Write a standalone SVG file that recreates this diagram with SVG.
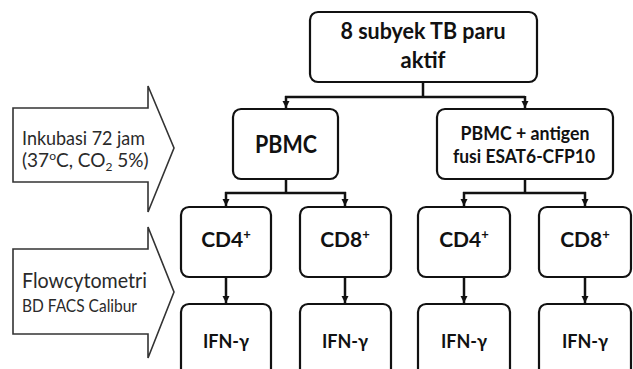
<svg xmlns="http://www.w3.org/2000/svg" width="633" height="369" viewBox="0 0 633 369">
<style>
.box{fill:#fff;stroke:#111;stroke-width:2.2}
.conn{fill:none;stroke:#111;stroke-width:2.5}
.big{fill:#111;stroke:#444;stroke-width:1.4}
.t{font-family:Lato,"Liberation Sans",sans-serif;fill:#111;text-anchor:middle}
.b{font-weight:bold}
.l{font-family:Lato,"Liberation Sans",sans-serif;fill:#2a2a2a}
</style>
<defs>
<marker id="ah" viewBox="0 0 10 10" refX="10" refY="5" markerWidth="3" markerHeight="3" orient="auto" markerUnits="strokeWidth">
<path d="M0,0 L10,5 L0,10 Z" fill="#111"/>
</marker>
</defs>
<rect width="633" height="369" fill="#fff"/>
<g id="arrow-inkubasi">
<path d="M13,108 H148 V86 L174,148 L148,212 V182 H13 Z" fill="#fff" stroke="#333" stroke-width="1.6"/>
<text class="l" x="22" y="145" font-size="19" textLength="123" lengthAdjust="spacingAndGlyphs">Inkubasi 72 jam</text>
<text class="l" x="22" y="167" font-size="19">(37<tspan font-size="12" dy="-7">o</tspan><tspan dy="7">C, CO</tspan><tspan font-size="12" dy="4">2</tspan><tspan dy="-4"> 5%)</tspan></text>
</g>
<g id="arrow-flow">
<path d="M13,249 H148 V227 L174,292 L148,358 V334 H13 Z" fill="#fff" stroke="#333" stroke-width="1.6"/>
<text class="l" x="22" y="288" font-size="22" textLength="125" lengthAdjust="spacingAndGlyphs">Flowcytometri</text>
<text class="l" x="22" y="312" font-size="17" textLength="115" lengthAdjust="spacingAndGlyphs">BD FACS Calibur</text>
</g>
<g id="connectors">
<path class="conn" d="M423,82 V97 M285,97 H525"/>
<path class="conn" d="M286,96 V108" marker-end="url(#ah)"/>
<path class="conn" d="M525,96 V108" marker-end="url(#ah)"/>
<path class="conn" d="M286,179 V193 M225,193 H346"/>
<path class="conn" d="M226,192 V206" marker-end="url(#ah)"/>
<path class="conn" d="M345,192 V206" marker-end="url(#ah)"/>
<path class="conn" d="M525,179 V193 M463,193 H586"/>
<path class="conn" d="M464,192 V206" marker-end="url(#ah)"/>
<path class="conn" d="M585,192 V206" marker-end="url(#ah)"/>
<path class="conn" d="M226,277 V303" marker-end="url(#ah)"/>
<path class="conn" d="M345,277 V303" marker-end="url(#ah)"/>
<path class="conn" d="M464,277 V303" marker-end="url(#ah)"/>
<path class="conn" d="M585,277 V303" marker-end="url(#ah)"/>
</g>
<g id="n-top">
<rect class="box" x="310" y="12" width="227" height="70" rx="8"/>
<text class="t b" x="423" y="39" font-size="22" textLength="165" lengthAdjust="spacingAndGlyphs">8 subyek TB paru</text>
<text class="t b" x="423" y="68" font-size="22">aktif</text>
</g>
<g id="n-pbmc">
<rect class="box" x="233" y="109" width="105" height="70" rx="8"/>
<text class="t b" x="286" y="153" font-size="25" textLength="62" lengthAdjust="spacingAndGlyphs">PBMC</text>
</g>
<g id="n-pbmc-ag">
<rect class="box" x="437" y="109" width="176" height="70" rx="8"/>
<text class="t b" x="525" y="140" font-size="18" textLength="129" lengthAdjust="spacingAndGlyphs">PBMC + antigen</text>
<text class="t b" x="524" y="163" font-size="18" textLength="142" lengthAdjust="spacingAndGlyphs">fusi ESAT6-CFP10</text>
</g>
<g id="n-cd4-a">
<rect class="box" x="181" y="207" width="90" height="70" rx="8"/>
<text class="t b" x="226" y="247" font-size="21">CD4<tspan font-size="13" dy="-8">+</tspan></text>
</g>
<g id="n-cd8-a">
<rect class="box" x="300" y="207" width="91" height="70" rx="8"/>
<text class="t b" x="345" y="247" font-size="21">CD8<tspan font-size="13" dy="-8">+</tspan></text>
</g>
<g id="n-cd4-b">
<rect class="box" x="418" y="207" width="92" height="70" rx="8"/>
<text class="t b" x="464" y="247" font-size="21">CD4<tspan font-size="13" dy="-8">+</tspan></text>
</g>
<g id="n-cd8-b">
<rect class="box" x="539" y="207" width="92" height="70" rx="8"/>
<text class="t b" x="585" y="247" font-size="21">CD8<tspan font-size="13" dy="-8">+</tspan></text>
</g>
<g id="n-ifn-1">
<rect class="box" x="181" y="304" width="90" height="80" rx="8"/>
<text class="t b" x="226" y="348" font-size="18">IFN-γ</text>
</g>
<g id="n-ifn-2">
<rect class="box" x="300" y="304" width="91" height="80" rx="8"/>
<text class="t b" x="345" y="348" font-size="18">IFN-γ</text>
</g>
<g id="n-ifn-3">
<rect class="box" x="418" y="304" width="92" height="80" rx="8"/>
<text class="t b" x="464" y="348" font-size="18">IFN-γ</text>
</g>
<g id="n-ifn-4">
<rect class="box" x="539" y="304" width="92" height="80" rx="8"/>
<text class="t b" x="585" y="348" font-size="18">IFN-γ</text>
</g>
</svg>
